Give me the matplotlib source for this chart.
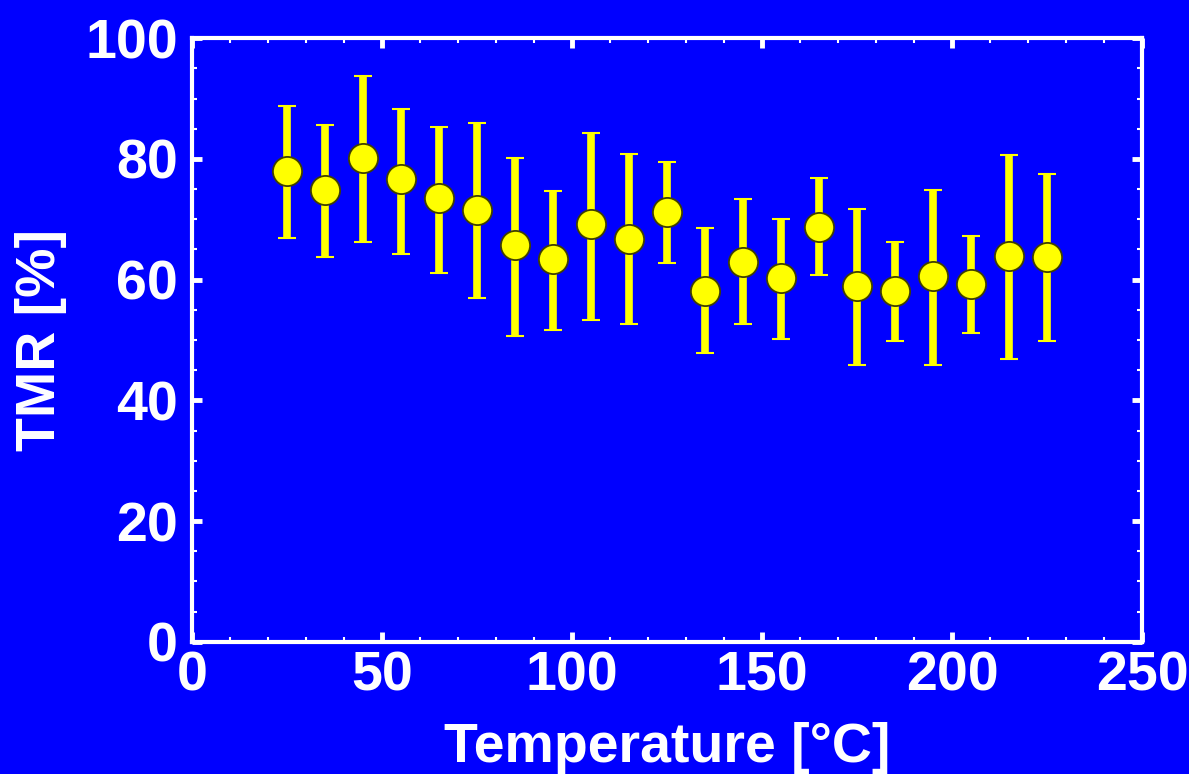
import matplotlib
matplotlib.use("Agg")
import matplotlib.pyplot as plt
from matplotlib.ticker import MultipleLocator

temperature = [25, 35, 45, 55, 65, 75, 85, 95, 105, 115, 125,
               135, 145, 155, 165, 175, 185, 195, 205, 215, 225]
tmr = [78.0, 74.9, 80.1, 76.6, 73.6, 71.5, 65.7, 63.4, 69.2, 66.7, 71.2,
       58.2, 63.0, 60.3, 68.8, 58.9, 58.2, 60.6, 59.3, 64.0, 63.7]
tmr_upper = [88.7, 85.6, 93.8, 88.3, 85.3, 86.0, 80.2, 74.7, 84.3, 80.9, 79.5,
             68.6, 73.4, 70.0, 76.8, 71.7, 66.3, 74.8, 67.2, 80.6, 77.5]
tmr_lower = [66.9, 63.8, 66.2, 64.2, 61.1, 57.0, 50.6, 51.6, 53.3, 52.6, 62.8,
             47.9, 52.6, 50.2, 60.7, 45.8, 49.9, 45.8, 51.2, 46.8, 49.9]

err_low = [t - lo for t, lo in zip(tmr, tmr_lower)]
err_high = [hi - t for t, hi in zip(tmr, tmr_upper)]

BLUE = "#0000ff"
YELLOW = "#ffff00"
WHITE = "white"

plt.rcParams['font.family'] = ['Liberation Sans', 'DejaVu Sans']
plt.rcParams['font.weight'] = 'bold'

fig = plt.figure(figsize=(11.89, 7.74), dpi=100)
fig.patch.set_facecolor(BLUE)
ax = fig.add_axes([192 / 1189, 132.3 / 774, 950 / 1189, 603.4 / 774])
ax.set_facecolor(BLUE)

ax.errorbar(temperature, tmr, yerr=[err_low, err_high], fmt='none',
            ecolor=YELLOW, elinewidth=5.5, capsize=6.5, capthick=1.5, zorder=2)
ax.plot(temperature, tmr, 'o', ms=21, mfc=YELLOW, mec='#404000', mew=1.3,
        zorder=3, linestyle='none')

ax.set_xlim(0, 250)
ax.set_ylim(0, 100)
ax.xaxis.set_major_locator(MultipleLocator(50))
ax.xaxis.set_minor_locator(MultipleLocator(10))
ax.yaxis.set_major_locator(MultipleLocator(20))
ax.yaxis.set_minor_locator(MultipleLocator(5))

for sp in ax.spines.values():
    sp.set_color(WHITE)
    sp.set_linewidth(3)

ax.tick_params(which='both', direction='in', top=True, right=True, colors=WHITE)
ax.tick_params(which='major', length=7, width=3.5)
ax.tick_params(which='minor', length=3.5, width=1.5)
ax.tick_params(axis='x', which='major', pad=6, labelsize=40)
ax.tick_params(axis='y', which='major', pad=10, labelsize=40)
for lab in ax.get_xticklabels() + ax.get_yticklabels():
    lab.set_fontweight('bold')
    lab.set_color(WHITE)

ax.set_xlabel('Temperature [°C]', fontsize=40, fontweight='bold', color=WHITE)
ax.xaxis.label.set_va('baseline')
ax.xaxis.set_label_coords(0.5, -0.1989)

ax.set_ylabel('TMR [%]', fontsize=40, fontweight='bold', color=WHITE,
              rotation=90, rotation_mode='anchor', ha='center', va='baseline')
ax.yaxis.set_label_coords(-0.1442, 0.5)

fig.savefig('out.png', dpi=100, facecolor=BLUE)
